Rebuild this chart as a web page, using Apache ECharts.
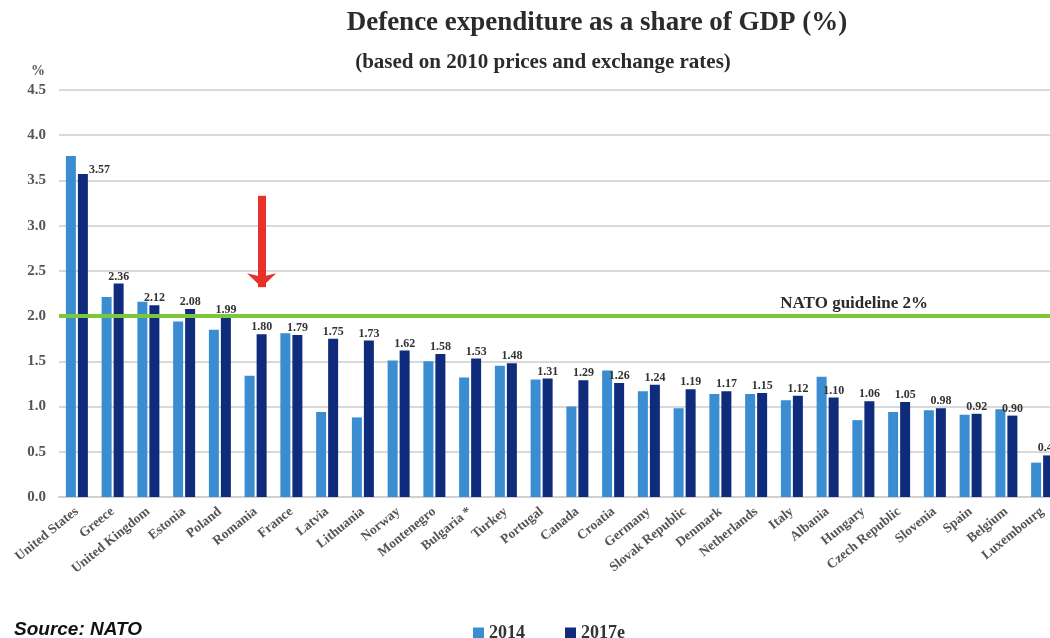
<!DOCTYPE html>
<html><head><meta charset="utf-8">
<script src="https://cdn.jsdelivr.net/npm/echarts@6/dist/echarts.min.js"></script>
<style>html,body{margin:0;padding:0;background:#fff;overflow:hidden}#c{width:1060px;height:638px}</style>
</head><body><div id="c"></div>
<script>
const countries = ["United States","Greece","United Kingdom","Estonia","Poland","Romania","France","Latvia","Lithuania","Norway","Montenegro","Bulgaria *","Turkey","Portugal","Canada","Croatia","Germany","Slovak Republic","Denmark","Netherlands","Italy","Albania","Hungary","Czech Republic","Slovenia","Spain","Belgium","Luxembourg"];
const values2014 = [3.77,2.21,2.16,1.94,1.85,1.34,1.81,0.94,0.88,1.51,1.50,1.32,1.45,1.30,1.00,1.40,1.17,0.98,1.14,1.14,1.07,1.33,0.85,0.94,0.96,0.91,0.97,0.38];
const values2017 = [3.57,2.36,2.12,2.08,1.99,1.80,1.79,1.75,1.73,1.62,1.58,1.53,1.48,1.31,1.29,1.26,1.24,1.19,1.17,1.15,1.12,1.10,1.06,1.05,0.98,0.92,0.90,0.46];
const yTicks = [0,0.5,1,1.5,2,2.5,3,3.5,4,4.5];
const guideline = 2.0;
const arrowFrom = 3.33, arrowTo = 2.32, arrowCountry = "Romania";

const serif = "Liberation Serif";
const chart = echarts.init(document.getElementById('c'));
chart.setOption({
  animation:false,
  title:[
    {text:"Defence expenditure as a share of GDP (%)", left:592, top:5, textAlign:'center',
     textStyle:{fontFamily:serif,fontWeight:'bold',fontSize:27,color:'#2b2b2b'}},
    {text:"(based on 2010 prices and exchange rates)", left:538, top:47, textAlign:'center',
     textStyle:{fontFamily:serif,fontWeight:'bold',fontSize:21,color:'#2b2b2b'}},
    {text:"Source: NATO", left:9, top:615,
     textStyle:{fontFamily:"Liberation Sans",fontWeight:'bold',fontStyle:'italic',fontSize:19,color:'#111'}}
  ],
  legend:{top:619,left:468,itemWidth:11,itemHeight:11,itemGap:40,icon:'rect',
    textStyle:{fontFamily:serif,fontWeight:'bold',fontSize:18,color:'#333'},
    data:['2014','2017e']},
  grid:{left:59,right:0,top:90,bottom:141},
  xAxis:{type:'category',data:countries,
    axisLine:{lineStyle:{color:'#d0d0d0',width:2}},axisTick:{show:false},
    axisLabel:{rotate:39,interval:0,margin:13,fontFamily:serif,fontWeight:'bold',fontSize:13.5,color:'#555'}},
  yAxis:{type:'value',min:0,max:4.5,interval:0.5,name:'%',
    nameLocation:'end',nameGap:12,nameTextStyle:{fontFamily:serif,fontWeight:'bold',fontSize:14,color:'#555',align:'right',padding:[0,14,0,0]},
    axisLine:{show:false},axisTick:{show:false},
    splitLine:{lineStyle:{color:'#d9d9d9',width:2}},
    axisLabel:{margin:13,fontFamily:serif,fontWeight:'bold',fontSize:15,color:'#555',formatter:v=>v.toFixed(1)}},
  series:[
    {name:'2014',type:'bar',data:values2014,barWidth:10,barGap:'20%',itemStyle:{color:'#3a8dd0'},
     markLine:{silent:true,symbol:'none',z:10,
       lineStyle:{color:'#7cc73c',width:4,type:'solid'},
       label:{show:true,position:'insideEndTop',formatter:'NATO guideline 2%',offset:[-128,0],distance:4,
         fontFamily:serif,fontWeight:'bold',fontSize:17,color:'#2b2b2b'},
       data:[{yAxis:guideline}]}},
    {name:'2017e',type:'bar',data:values2017.map((v,i)=>i===0?{value:v,label:{position:[11,-10]}}:v),
     barWidth:10,itemStyle:{color:'#0f2c7c'},
     label:{show:true,position:'top',distance:1,formatter:p=>p.value.toFixed(2),
       fontFamily:serif,fontWeight:'bold',fontSize:12,color:'#333'},
     markLine:{silent:true,symbol:['none','arrow'],symbolSize:[22,14],z:12,
       lineStyle:{color:'#e8312a',width:8,type:'solid'},label:{show:false},
       data:[[{coord:[arrowCountry,arrowFrom]},{coord:[arrowCountry,arrowTo]}]]}}
  ]
});
</script></body></html>
